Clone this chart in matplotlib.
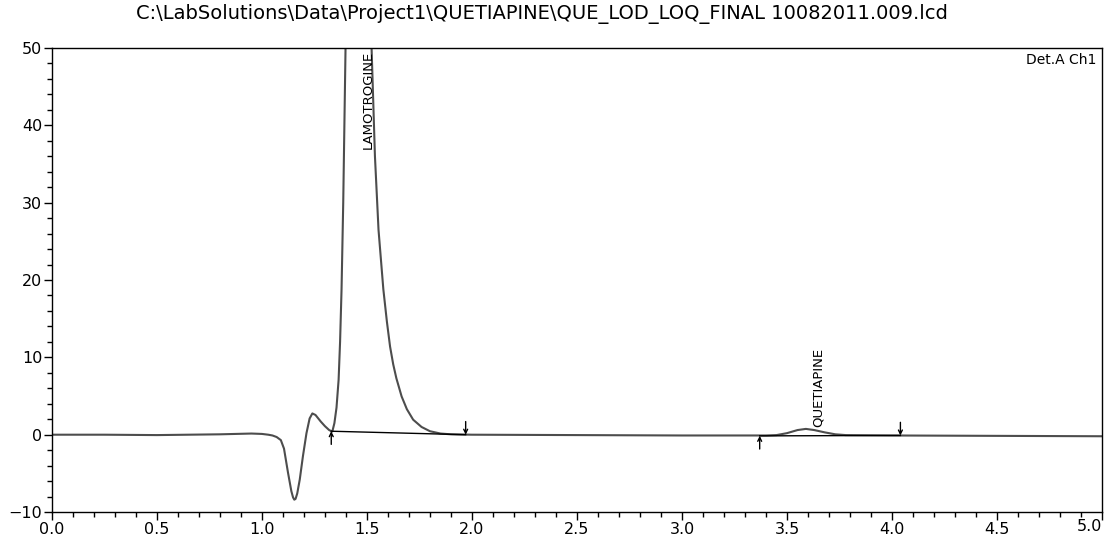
import matplotlib
matplotlib.use('Agg')
import matplotlib.pyplot as plt
from matplotlib.ticker import MultipleLocator

# Chromatogram trace (time in min, signal in mV)
time = [0.0, 0.25, 0.5, 0.8, 0.95, 1.0, 1.03, 1.05, 1.07, 1.09, 1.105, 1.124,
        1.14, 1.148, 1.154, 1.16, 1.168, 1.18, 1.195, 1.212, 1.227, 1.24,
        1.255, 1.28, 1.30, 1.32, 1.335, 1.345, 1.355, 1.365, 1.372, 1.379,
        1.387, 1.398, 1.41, 1.43, 1.45, 1.47, 1.49, 1.51, 1.522, 1.538,
        1.555, 1.578, 1.595, 1.61, 1.625, 1.64, 1.665, 1.69, 1.72, 1.76,
        1.80, 1.85, 1.90, 2.0, 2.5, 3.0, 3.4, 3.45, 3.5, 3.55, 3.59, 3.63,
        3.68, 3.73, 3.78, 4.0, 4.5, 5.0]
signal = [0.0, 0.0, -0.05, 0.05, 0.15, 0.1, 0.0, -0.1, -0.3, -0.7, -1.8, -4.9,
          -7.3, -8.1, -8.4, -8.3, -7.6, -5.8, -2.8, 0.2, 2.1, 2.75,
          2.55, 1.7, 1.1, 0.6, 0.4, 1.5, 3.5, 7.1, 12.0, 18.8,
          30.0, 50.0, 72.0, 86.0, 88.0, 80.0, 66.0, 56.0, 50.0, 36.0,
          26.5, 18.8, 14.6, 11.4, 9.1, 7.3, 4.95, 3.3, 1.94, 1.0,
          0.45, 0.15, 0.05, 0.0, -0.05, -0.1, -0.1, -0.05, 0.2, 0.6, 0.75, 0.6,
          0.3, 0.05, -0.05, -0.1, -0.15, -0.2]

# Integration baselines (start/end of each peak)
peak_names = ['LAMOTROGINE', 'QUETIAPINE']
base_start = [1.33, 3.37]
base_end = [1.97, 4.04]
base_start_y = [0.45, -0.15]
base_end_y = [0.0, -0.1]
label_x = [1.505, 3.65]

fig = plt.figure(figsize=(11.05, 5.39), dpi=100)
ax = fig.add_axes([0.047, 0.050, 0.9503, 0.861])

ax.plot(time, signal, color='#4d4d4d', lw=1.5)

for i in range(len(peak_names)):
    ax.plot([base_start[i], base_end[i]], [base_start_y[i], base_end_y[i]],
            color='black', lw=1.0)
    # start marker: up arrow below baseline
    ax.annotate('', xy=(base_start[i], base_start_y[i]),
                xytext=(base_start[i], base_start_y[i] - 1.7),
                arrowprops=dict(arrowstyle='->', lw=1.0, color='black',
                                shrinkA=0, shrinkB=0, mutation_scale=7))
    # end marker: down arrow above baseline
    ax.annotate('', xy=(base_end[i], base_end_y[i]),
                xytext=(base_end[i], base_end_y[i] + 1.7),
                arrowprops=dict(arrowstyle='->', lw=1.0, color='black',
                                shrinkA=0, shrinkB=0, mutation_scale=7))

ax.text(label_x[0], 49.6, peak_names[0], rotation=90, ha='center', va='top',
        fontsize=9.5)
ax.text(label_x[1], 1.0, peak_names[1], rotation=90, ha='center', va='bottom',
        fontsize=9.5)

ax.text(0.995, 0.99, 'Det.A Ch1', transform=ax.transAxes, ha='right', va='top',
        fontsize=10)

ax.set_xlim(0, 5.0)
ax.set_ylim(-10, 50)
ax.xaxis.set_major_locator(MultipleLocator(0.5))
ax.xaxis.set_minor_locator(MultipleLocator(0.1))
ax.yaxis.set_major_locator(MultipleLocator(10))
ax.yaxis.set_minor_locator(MultipleLocator(2))
# last label (5.0) is drawn separately so it stays inside the figure
ax.xaxis.set_major_formatter(plt.FuncFormatter(
    lambda v, p: '' if v > 4.99 else f'{v:.1f}'))
ax.tick_params(which='major', length=6, width=1, labelsize=11.5, pad=1)
ax.tick_params(which='minor', length=3.5, width=1)
for s in ax.spines.values():
    s.set_linewidth(1.0)

ax.text(1.0, -0.0155, '5.0', transform=ax.transAxes, ha='right', va='top',
        fontsize=11.5)

fig.text(0.49, 0.974,
         'C:\\LabSolutions\\Data\\Project1\\QUETIAPINE\\QUE_LOD_LOQ_FINAL 10082011.009.lcd',
         ha='center', va='center', fontsize=14)

fig.savefig('out.png', dpi=100)
